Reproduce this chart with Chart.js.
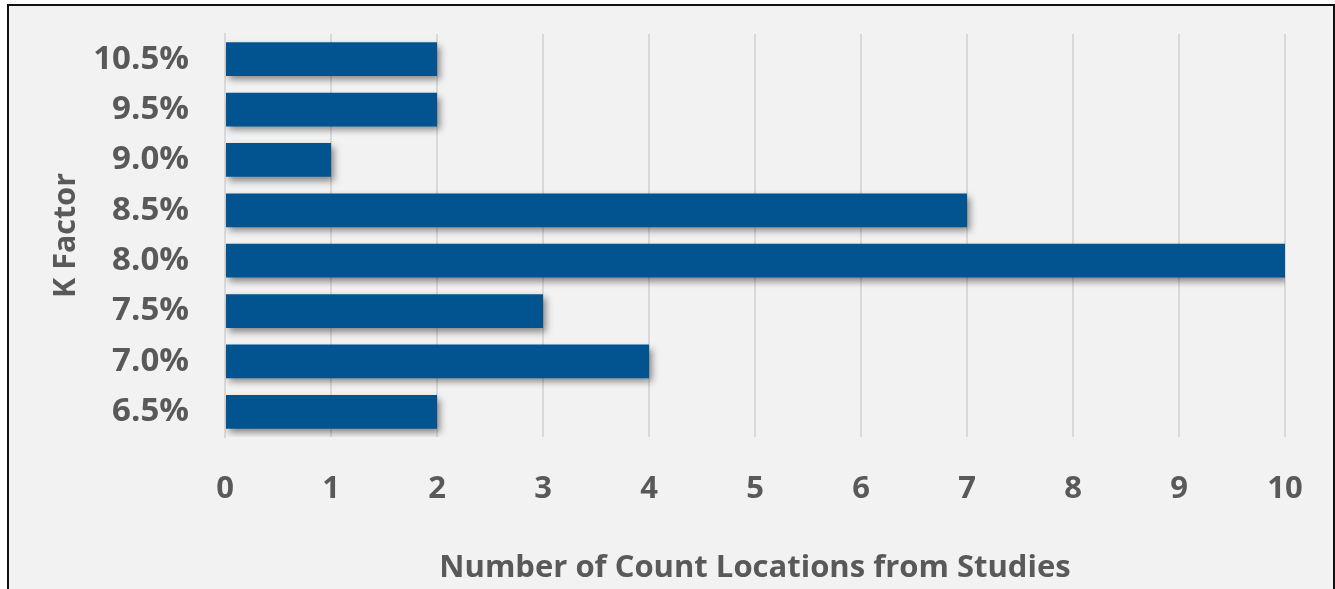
<!DOCTYPE html>
<html>
<head>
<meta charset="utf-8">
<script src="https://cdn.jsdelivr.net/npm/chart.js@4.4.1/dist/chart.umd.min.js"></script>
<style>
  html, body { margin: 0; padding: 0; background: #ffffff; }
  body { width: 1335px; height: 589px; position: relative; overflow: hidden; }
  .frame {
    position: absolute; left: 7px; top: 4px; width: 1324px; height: 600px;
    background: #f2f2f2;
    border-left: 2px solid #111; border-top: 2px solid #111; border-right: 2px solid #111;
  }
  #chart { position: absolute; left: 0; top: 0; }
</style>
</head>
<body>
<div class="frame"></div>
<canvas id="chart" width="1335" height="589"></canvas>
<script>
// K factor buckets, listed top to bottom
const kFactors = ['10.5%', '9.5%', '9.0%', '8.5%', '8.0%', '7.5%', '7.0%', '6.5%'];
const locationCounts = [2, 2, 1, 7, 10, 3, 4, 2];
const countTicks = [0, 1, 2, 3, 4, 5, 6, 7, 8, 9, 10];

const FONT = '"Open Sans", "Liberation Sans", sans-serif';
const TEXT = '#595959';

// soft drop shadow behind the bars
const barShadow = {
    id: 'barShadow',
    beforeDatasetsDraw(chart) {
        const ctx = chart.ctx;
        ctx.save();
        ctx.shadowColor = 'rgba(0, 0, 0, 0.45)';
        ctx.shadowBlur = 7;
        ctx.shadowOffsetX = 3;
        ctx.shadowOffsetY = 4;
    },
    afterDatasetsDraw(chart) {
        chart.ctx.restore();
    }
};

const ctx = document.getElementById('chart').getContext('2d');
new Chart(ctx, {
    type: 'bar',
    data: {
        labels: kFactors,
        datasets: [{
            data: locationCounts,
            backgroundColor: '#01548f',
            barPercentage: 0.67,
            categoryPercentage: 1
        }]
    },
    options: {
        indexAxis: 'y',
        responsive: false,
        animation: false,
        layout: { padding: { left: 0, top: 34, right: 50, bottom: 0 } },
        plugins: {
            legend: { display: false },
            tooltip: { enabled: false }
        },
        scales: {
            x: {
                min: 0,
                max: 10,
                afterBuildTicks: (scale) => {
                    scale.ticks = countTicks.map(v => ({ value: v }));
                },
                afterFit: (scale) => {
                    scale.height = 152;
                    // keep the plot edges fixed regardless of label widths
                    scale.paddingLeft = 0;
                    scale.paddingRight = 0;
                },
                grid: { color: '#d9d9d9', lineWidth: 2, drawTicks: false },
                border: { display: false },
                ticks: {
                    padding: 34,
                    color: TEXT,
                    font: { family: FONT, size: 31, weight: 'bold' }
                },
                title: {
                    display: true,
                    text: 'Number of Count Locations from Studies',
                    color: TEXT,
                    padding: { top: 0, bottom: 2 },
                    font: { family: FONT, size: 31, weight: 'bold' }
                }
            },
            y: {
                afterFit: (scale) => {
                    scale.width = 225;
                    scale.paddingTop = 0;
                    scale.paddingBottom = 0;
                },
                grid: { display: false },
                border: { display: true, color: '#d9d9d9', width: 2 },
                ticks: {
                    padding: 28,
                    color: TEXT,
                    font: { family: FONT, size: 33, weight: 'bold' }
                },
                title: {
                    display: true,
                    text: 'K Factor',
                    color: TEXT,
                    padding: { top: 48, bottom: 0 },
                    font: { family: FONT, size: 30.5, weight: 'bold' }
                }
            }
        }
    },
    plugins: [barShadow]
});
</script>
</body>
</html>
